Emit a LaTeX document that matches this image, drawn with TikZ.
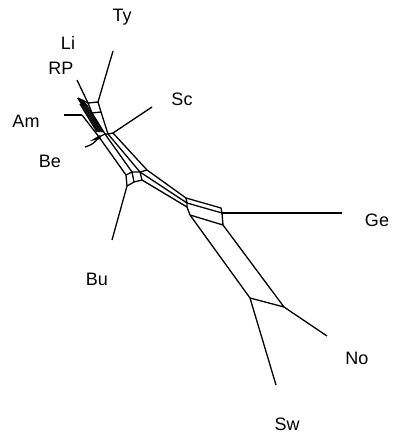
\documentclass[tikz,border=0pt]{standalone}
\usepackage{fontspec}
\setmainfont{Liberation Sans}
\begin{document}
\begin{tikzpicture}[x=1pt,y=-1pt,
  edge/.style={line width=1.3pt, line join=round},
  lab/.style={font=\fontsize{18}{20}\selectfont, inner sep=0pt}]
\useasboundingbox (0,0) rectangle (393,439);
% vertices
\coordinate (A) at (88,103);
\coordinate (B) at (98,102);
\coordinate (C) at (101,112);
\coordinate (D) at (92,113);
\coordinate (E) at (82,115);
\coordinate (F) at (99,137);
\coordinate (F2) at (105,134);
\coordinate (S) at (108,134);
\coordinate (S2) at (113,133);
\coordinate (P1) at (126,175);
\coordinate (G) at (132,172);
\coordinate (I) at (140,172);
\coordinate (J) at (142,180);
\coordinate (K) at (134,182);
\coordinate (H) at (127,186);
\coordinate (T) at (147,170);
\coordinate (V1) at (186,198);
\coordinate (V2) at (187,203);
\coordinate (V3) at (187,207);
\coordinate (W1) at (221,208);
\coordinate (W2) at (222,213);
\coordinate (X1) at (190,215);
\coordinate (X2) at (223,225);
\coordinate (Y1) at (250,298);
\coordinate (Y2) at (284,307);
% leaf ends
\coordinate (lTy) at (113,51);
\coordinate (lRP) at (77,80);
\coordinate (lLi) at (78,98);
\coordinate (lAm) at (64,115);
\coordinate (lBe) at (85,147);
\coordinate (lSc) at (152,107);
\coordinate (lBu) at (112,240);
\coordinate (lGe) at (342,213);
\coordinate (lNo) at (327,336);
\coordinate (lSw) at (276,385);
% dense tangle
\fill (77,98) -- (84,100) -- (87,106) -- (82,106) -- cycle;
\foreach \dx in {0,1.5,3,4.5,6}{
  \draw[edge] (80+\dx,104) -- (97+\dx,132);
}
\fill (90,141) -- (100,135) -- (101,139) -- cycle;
% network edges
\draw[edge] (A) -- (B) -- (C) -- (D) -- (A);
\draw[edge] (E) -- (F) -- (P1) -- (H);
\draw[edge] (D) -- (F2) -- (G);
\draw[edge] (F) -- (F2);
\draw[edge] (C) -- (S) -- (I);
\draw[edge] (F2) -- (S) -- (S2) -- (T);
\draw[edge] (P1) -- (G) -- (I) -- (J) -- (K) -- (G);
\draw[edge] (K) -- (H);
\draw[edge] (I) -- (T);
\draw[edge] (T) -- (V1);
\draw[edge] (I) -- (V2);
\draw[edge] (J) -- (V3);
\draw[edge] (V1) -- (V2) -- (V3) -- (X1);
\draw[edge] (V1) -- (W1) -- (W2) -- (V2);
\draw[edge] (W2) -- (X2) -- (X1);
\draw[edge] (X1) -- (Y1) -- (Y2) -- (X2);
% leaves
\draw[edge] (B) -- (lTy);
\draw[edge] (A) -- (lRP);
\draw[edge] (A) -- (lLi);
\draw[edge] (E) -- (lAm);
\draw[edge] (F) to[bend left=20] (lBe);
\draw[edge] (S2) -- (lSc);
\draw[edge] (H) -- (lBu);
\draw[edge] (W2) -- (lGe);
\draw[edge] (Y2) -- (lNo);
\draw[edge] (Y1) -- (lSw);
% labels
\node[lab] (nTy) at (122,17) {Ty};
\node[lab] (nLi) at (68,43) {Li};
\node[lab] (nRP) at (61,68) {RP};
\node[lab] (nAm) at (26,121) {Am};
\node[lab] (nSc) at (182,99) {Sc};
\node[lab] (nBe) at (50,161) {Be};
\node[lab] (nBu) at (97,279) {Bu};
\node[lab] (nGe) at (377,220) {Ge};
\node[lab] (nNo) at (357,358) {No};
\node[lab] (nSw) at (287,424) {Sw};
\end{tikzpicture}
\end{document}
